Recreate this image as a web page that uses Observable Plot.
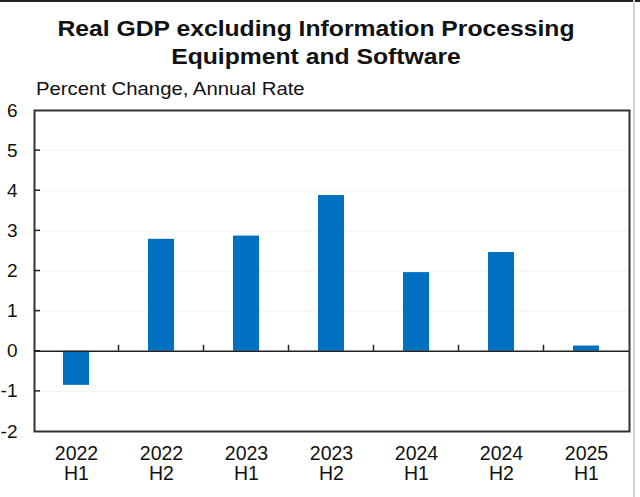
<!DOCTYPE html>
<html>
<head>
<meta charset="utf-8">
<script src="https://cdn.jsdelivr.net/npm/d3@7"></script>
<script src="https://cdn.jsdelivr.net/npm/@observablehq/plot@0.6"></script>
<style>
  html, body { margin: 0; padding: 0; background: #fff; }
  #wrap { position: relative; width: 640px; height: 497px; overflow: hidden; background: #fff; }
  #topbar { position: absolute; left: 0; top: 0; width: 640px; height: 2px; background: #222; z-index: 2; }
  #rightbar { position: absolute; left: 633px; top: 0; width: 2px; height: 497px; background: #d4d4d4; z-index: 2; }
  #title { padding-top: 15px; height: 56px; line-height: 28px; font-family: "Liberation Sans", Arial, sans-serif; font-weight: bold; font-size: 22px; color: #111; text-align: center; transform: scaleX(1.123); transform-origin: 316px 0; padding-right: 8px; white-space: nowrap; }
  #subtitle { position: absolute; left: 36px; top: 79px; line-height: 20px; font-family: "Liberation Sans", Arial, sans-serif; font-size: 17.5px; color: #111; transform: scaleX(1.16); transform-origin: 0 0; z-index: 1; white-space: nowrap; }
  #chart { position: absolute; left: 0; top: 71px; }
</style>
</head>
<body>
<div id="wrap">
  <div id="topbar"></div>
  <div id="title">Real GDP excluding Information Processing<br>Equipment and Software</div>
  <div id="chart"></div>
  <div id="subtitle">Percent Change, Annual Rate</div>
  <div id="rightbar"></div>
</div>
<script>
const periods = ["2022\nH1", "2022\nH2", "2023\nH1", "2023\nH2", "2024\nH1", "2024\nH2", "2025\nH1"];
const values = [-0.85, 2.79, 2.87, 3.88, 1.96, 2.46, 0.13];
const yTicks = [-2, -1, 0, 1, 2, 3, 4, 5, 6];

const data = periods.map((p, i) => ({period: p, value: values[i]}));

// inward y ticks and upward category-boundary ticks on the zero line
function customTicks(index, scales, vals, dims) {
  const g = d3.create("svg:g");
  const x = scales.x, y = scales.y;
  const left = dims.marginLeft;
  const step = x.step ? x.step() : (dims.width - dims.marginLeft - dims.marginRight) / periods.length;
  const bw = x.bandwidth ? x.bandwidth() : 0;
  g.selectAll("line.yt").data(yTicks.slice(1, -1)).join("line")
    .attr("x1", left).attr("x2", left + 6)
    .attr("y1", d => y(d)).attr("y2", d => y(d))
    .attr("stroke", "#222").attr("stroke-width", 1.5);
  g.selectAll("line.xt").data(periods.slice(1)).join("line")
    .attr("x1", d => x(d) - (step - bw) / 2).attr("x2", d => x(d) - (step - bw) / 2)
    .attr("y1", y(0)).attr("y2", y(0) - 6)
    .attr("stroke", "#222").attr("stroke-width", 1.5);
  return g.node();
}

const chart = Plot.plot({
  width: 640,
  height: 426,
  marginLeft: 34,
  marginRight: 11,
  marginTop: 39,
  marginBottom: 66,
  style: {fontFamily: "'Liberation Sans', Arial, sans-serif", fontSize: "19.5px", color: "#111", background: "transparent"},
  x: {domain: periods, paddingInner: 0.69, paddingOuter: 0.345, label: null},
  y: {domain: [-2, 6], label: null},
  marks: [
    Plot.gridY(yTicks, {stroke: "#f2f2f2", strokeOpacity: 1}),
    Plot.barY(data, {x: "period", y: "value", fill: "#0070C0"}),
    Plot.ruleY([0], {stroke: "#222", strokeWidth: 1.6}),
    Plot.frame({stroke: "#333", strokeWidth: 2}),
    customTicks,
    Plot.axisY(yTicks, {tickSize: 0, tickPadding: 17, tickFormat: d => String(d), fontSize: "19px", fill: "#111"}),
    Plot.axisX({tickSize: 0, tickPadding: 14, lineHeight: 1.026, fontSize: "19.5px", fill: "#111"})
  ]
});
document.getElementById("chart").appendChild(chart);
</script>
</body>
</html>
